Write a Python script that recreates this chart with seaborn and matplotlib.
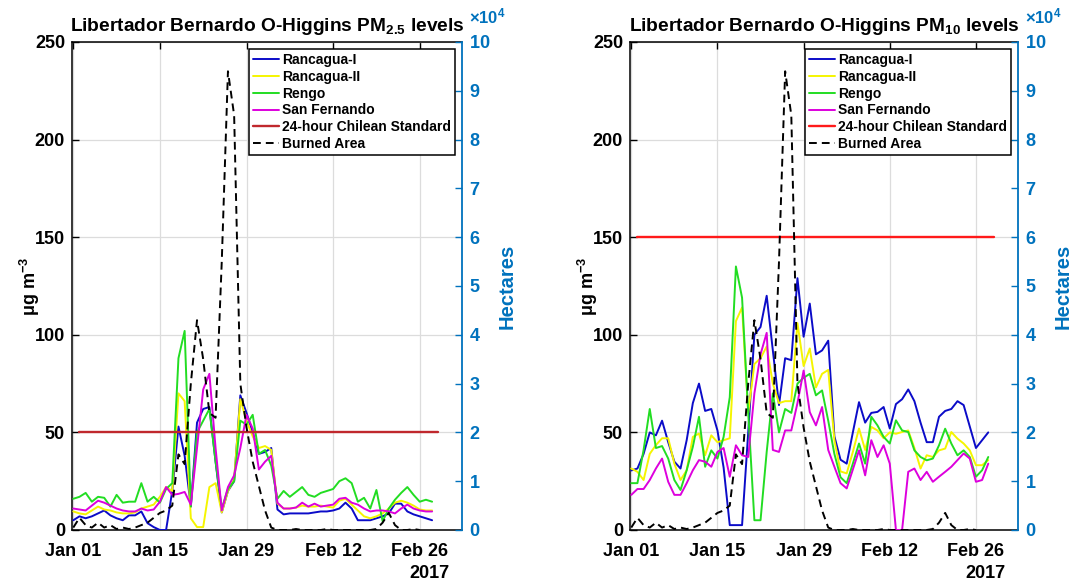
import matplotlib
matplotlib.use("Agg")
import numpy as np
import pandas as pd
import matplotlib.pyplot as plt
import matplotlib.dates as mdates
from matplotlib.ticker import ScalarFormatter
import seaborn as sns

# ---------------------------------------------------------------- data
start_date = "2017-01-01"
n_days = 59                      # Jan 01 .. Feb 28
burn_days = 57                   # Jan 01 .. Feb 26

stations = ["Rancagua-I", "Rancagua-II", "Rengo", "San Fernando"]

# daily PM2.5 (ug m-3)
pm25_rancagua1 = [5, 7, 6, 7, 8.5, 10, 7.5, 6, 5, 7.5,
                  7.5, 9.5, 3.5, 1.5, 0, 0, 20, 53, 38, 12,
                  55, 62, 63, 35, 9, 20, 25, 69, 60, 50,
                  39, 40, 42, 10.5, 8, 8.5, 8.5, 8.5, 8.5, 9,
                  9.5, 9.5, 10, 11, 14, 11, 5, 5, 5, 6,
                  7, 8.5, 13.5, 13.5, 9.5, 8, 7, 6, 5]
pm25_rancagua2 = [9.5, 8.5, 8, 10, 12, 10.5, 10, 9, 8.5, 8.5,
                  9, 11, 12, 13, 17, 22, 20, 70, 66, 6,
                  1.5, 1.5, 22, 24, 9, 20, 26, 67, 56, 48,
                  42, 43, 41, 13.5, 11, 11, 11.5, 12.5, 12, 12,
                  12.5, 12, 11.5, 15, 16, 13, 10, 7, 6, 7,
                  8.5, 11, 14, 15, 14, 12.5, 10.5, 10, 10]
pm25_rengo = [16, 17, 19, 14.5, 17, 16.5, 12, 18, 14, 14.5,
              14.5, 24, 14.5, 17, 14, 21, 24, 88, 102, 12,
              50, 56, 62, 35, 11, 21, 25, 56, 54, 59,
              39, 41, 33, 16, 20, 17, 19.5, 22, 18, 17,
              19, 20, 21, 25, 26.5, 24, 14.5, 16.5, 11, 20.5,
              4.5, 11, 15.5, 19, 22, 18, 14.5, 15.5, 14.5]
pm25_sanfernando = [11, 10.5, 10, 12.5, 15, 14, 12.5, 11, 10, 9.5,
                    9.5, 11, 10, 10.5, 14.5, 22, 18, 18.5, 19.5, 13,
                    42, 72, 80, 42, 10, 22, 28, 42, 59, 52,
                    31, 35, 38, 14, 11, 11, 11.5, 14, 12, 13.5,
                    12, 12.5, 13, 16, 16.5, 14, 13, 11, 9.5, 10,
                    10, 9.5, 8.5, 11, 13, 11, 10, 9.5, 9.5]

# daily PM10 (ug m-3)
pm10_rancagua1 = [30.5, 31.5, 39, 50, 48.5, 56, 45, 35, 31.5, 46,
                  65, 75, 61, 62, 51, 32, 2.5, 2.5, 2.5, 50,
                  100, 104, 120, 92, 64, 88, 87, 129, 99, 116,
                  90, 92, 97, 48, 36, 34, 50, 65.5, 55, 60,
                  60.5, 63, 52, 64.5, 67, 72, 66, 55, 45, 45,
                  58, 61, 62, 66, 64, 53, 42, 46, 50]
pm10_rancagua2 = [31.5, 29.8, 25.6, 39, 43.5, 47, 47, 34, 25.6, 30.6,
                  47.7, 49.4, 38.3, 48.5, 45, 46, 47, 107, 114, 60,
                  85, 88, 94, 75, 65, 66, 66, 106, 84, 93,
                  73, 80, 82, 46, 30, 29, 40, 52, 41, 52.8,
                  51, 47, 50, 49.3, 50.2, 51, 42, 31.5, 38.3, 37.4,
                  40.8, 41.7, 50.2, 46.8, 44.3, 40.8, 33.2, 33.2, 35.8]
pm10_rengo = [24, 24, 41, 62, 42, 43, 36.6, 25.6, 20.5, 30.6,
              42.6, 58, 32.4, 40.8, 36.6, 47.7, 68, 135, 119, 60,
              5, 5, 40, 70, 50, 62, 60, 75, 78, 80,
              69, 71.5, 56, 39, 27, 24, 34, 44.3, 34, 58,
              53.6, 47.7, 44.3, 56.2, 51, 50.2, 40.8, 37.4, 35.7, 36.6,
              43.4, 51.9, 44.3, 38.3, 40.8, 37.4, 27.3, 30.6, 37.4]
pm10_sanfernando = [18, 21, 21, 25.6, 31.5, 36.6, 24.7, 18, 18, 24,
                    30.6, 35.8, 35, 32.4, 40, 42, 27.3, 43.4, 38.3, 37.4,
                    70, 90, 101, 41, 40, 51, 51, 65, 81.7, 60.4,
                    53.6, 63, 41, 32.4, 24, 21.3, 31, 40.8, 28, 46,
                    37.4, 43.4, 34, 0, 0, 29.8, 31.5, 25.6, 29.8, 24.7,
                    27.3, 29.8, 32.4, 35.8, 39.2, 36.6, 24.7, 25.6, 34]

# daily burned area (hectares)
burned_area = [500, 2500, 1000, 500, 1500, 500, 1000, 200, 500, 200,
               500, 1000, 1500, 2500, 3500, 4000, 5000, 15500, 13500, 30000,
               43000, 35000, 24000, 23000, 55000, 94000, 85000, 30000, 21000, 14000,
               9000, 4000, 500, 0, 0, 0, 200, 0, 0, 0,
               0, 200, 0, 0, 0, 0, 0, 0, 0, 200,
               1500, 3500, 1000, 0, 0, 200, 0]

# 24-hour Chilean standards (ug m-3) and the span they are drawn over
standard_pm25 = 50
standard_pm10 = 150
standard_span = ["2017-01-02", "2017-03-01"]

tick_dates = ["2017-01-01", "2017-01-15", "2017-01-29", "2017-02-12", "2017-02-26"]

# ---------------------------------------------------------------- style
sns.set_theme(style="white")
plt.rcParams.update({
    "font.family": ["Liberation Sans", "DejaVu Sans"],
    "font.weight": "bold",
    "axes.labelweight": "bold",
    "axes.titleweight": "bold",
    "mathtext.fontset": "custom",
    "mathtext.rm": "Liberation Sans:bold",
    "mathtext.it": "Liberation Sans:bold",
    "mathtext.bf": "Liberation Sans:bold",
    "text.color": "black",
    "axes.labelcolor": "black",
    "xtick.color": "black",
    "ytick.color": "black",
    "axes.edgecolor": "black",
})

palette = {"Rancagua-I": "#0b0bc8", "Rancagua-II": "#f5f500",
           "Rengo": "#22dd22", "San Fernando": "#dd00dd"}
axis_blue = "#0072BD"

dates = pd.date_range(start_date, periods=n_days, freq="D")
burn_dates = pd.date_range(start_date, periods=burn_days, freq="D")


def long_frame(series):
    parts = [pd.DataFrame({"date": dates, "station": name, "value": vals})
             for name, vals in zip(stations, series)]
    return pd.concat(parts, ignore_index=True)


def draw_panel(ax, series, standard, std_color, title):
    df = long_frame(series)
    sns.lineplot(data=df, x="date", y="value", hue="station", hue_order=stations,
                 palette=palette, linewidth=1.4, legend=False, ax=ax, zorder=3)
    sns.lineplot(x=pd.to_datetime(standard_span), y=[standard, standard],
                 color=std_color, linewidth=1.7, ax=ax, zorder=4)

    ax.set_xlim(pd.Timestamp("2016-12-31 19:00"), pd.Timestamp("2017-03-04 20:00"))
    ax.set_ylim(0, 250)
    ax.set_yticks(np.arange(0, 251, 50))
    ax.set_xticks(pd.to_datetime(tick_dates))
    ax.xaxis.set_major_formatter(mdates.DateFormatter("%b %d"))
    ax.grid(True, color="#dcdcdc", linewidth=0.9)
    ax.set_axisbelow(True)
    ax.tick_params(axis="both", direction="in", length=5, width=1,
                   top=True, right=False, labelsize=13, pad=5)
    ax.tick_params(axis="x", pad=9)
    ax.set_xlabel("")
    ax.set_ylabel("μg m$^{-3}$", fontsize=13, labelpad=-5)
    # fixed y keeps the title just above the frame
    ax.set_title(title, fontsize=13.8, y=1.0, pad=8)
    for side in ["left", "bottom", "top"]:
        ax.spines[side].set_color("black")
        ax.spines[side].set_linewidth(1.1)
    ax.spines["right"].set_visible(False)
    ax.annotate("2017", xy=(1, 0), xycoords="axes fraction", xytext=(-9, -25),
                textcoords="offset points", ha="right", va="top", fontsize=13)

    ax2 = ax.twinx()
    sns.lineplot(x=burn_dates, y=burned_area, color="black", linewidth=1.4,
                 linestyle=(0, (4, 2.6)), ax=ax2, zorder=5)
    ax2.set_ylim(0, 100000)
    ax2.set_yticks(np.arange(0, 100001, 10000))
    fmt = ScalarFormatter(useMathText=True)
    fmt.set_powerlimits((4, 4))
    ax2.yaxis.set_major_formatter(fmt)
    # the multiplier is written by hand, higher than the default offset text
    ax2.yaxis.get_offset_text().set_visible(False)
    ax2.annotate(r"$\times10^{4}$", xy=(1, 1), xycoords="axes fraction",
                 xytext=(5, 11), textcoords="offset points", ha="left", va="bottom",
                 color=axis_blue, fontsize=12)
    ax2.tick_params(axis="y", direction="in", length=5, width=1, colors=axis_blue,
                    labelsize=13, pad=5)
    ax2.set_ylabel("Hectares", color=axis_blue, fontsize=14.5, labelpad=5)
    for side in ["left", "bottom", "top"]:
        ax2.spines[side].set_visible(False)
    ax2.spines["right"].set_color(axis_blue)
    ax2.spines["right"].set_linewidth(1.3)
    ax2.set_xlim(ax.get_xlim())

    handles = list(ax.get_lines()[:5]) + [ax2.get_lines()[0]]
    labels = stations + ["24-hour Chilean Standard", "Burned Area"]
    leg = ax2.legend(handles, labels, loc="upper right", fontsize=10,
                     frameon=True, fancybox=False, edgecolor="black", framealpha=1,
                     borderpad=0.3, labelspacing=0.2, handlelength=1.9,
                     handletextpad=0.2, borderaxespad=0.5)
    leg.get_frame().set_linewidth(1.1)
    return ax2


fig = plt.figure(figsize=(10.71, 5.82), dpi=100)
W, H = 1071, 582
ax_left = fig.add_axes([72 / W, 52 / H, 390 / W, 488 / H])
ax_right = fig.add_axes([630 / W, 52 / H, 388 / W, 488 / H])

draw_panel(ax_left,
           [pm25_rancagua1, pm25_rancagua2, pm25_rengo, pm25_sanfernando],
           standard_pm25, "#c0282d",
           "Libertador Bernardo O-Higgins PM$_{2.5}$ levels")
draw_panel(ax_right,
           [pm10_rancagua1, pm10_rancagua2, pm10_rengo, pm10_sanfernando],
           standard_pm10, "#ff1a1a",
           "Libertador Bernardo O-Higgins PM$_{10}$ levels")

fig.savefig("out.png", dpi=100)
